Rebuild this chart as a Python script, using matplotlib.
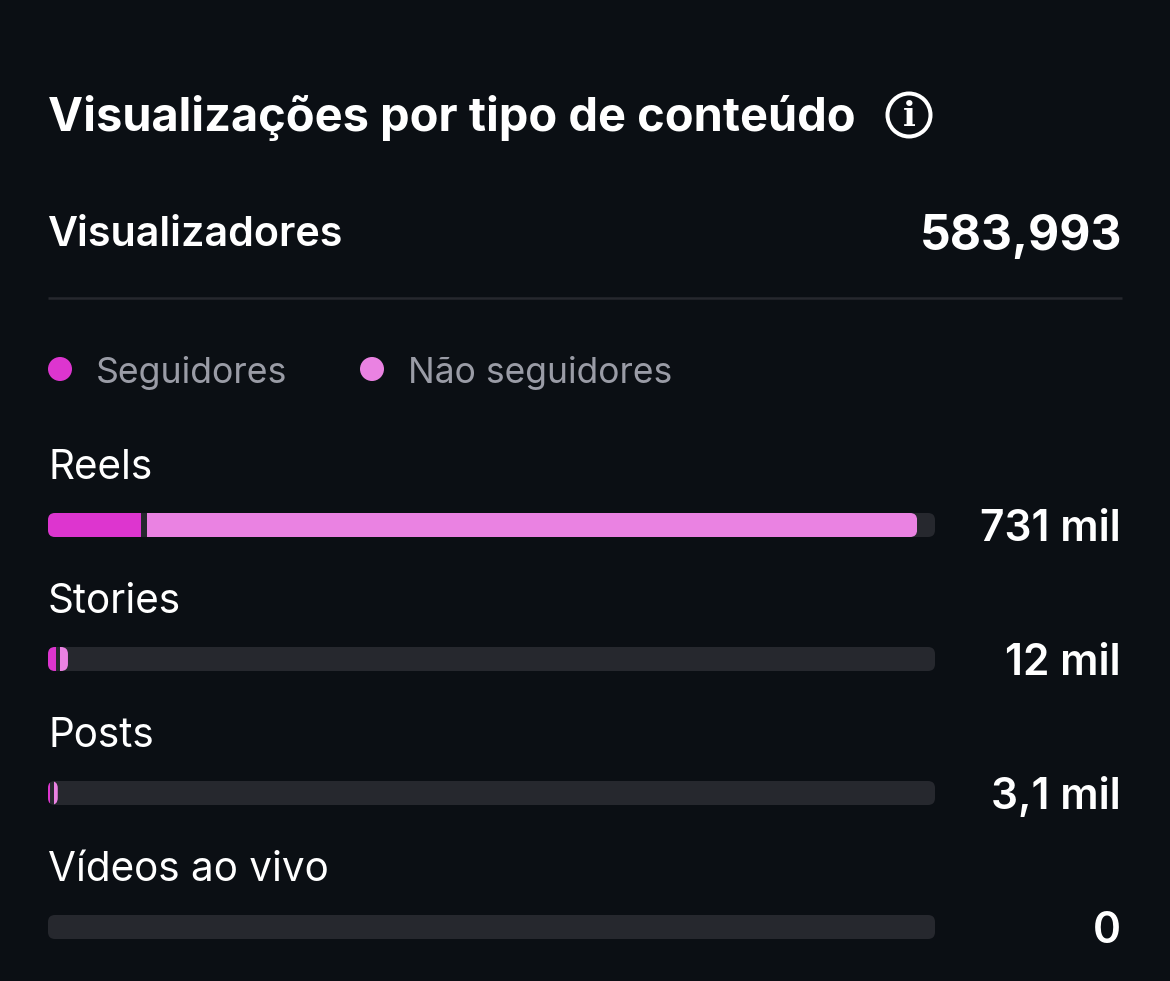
import matplotlib
matplotlib.use("Agg")
import matplotlib.pyplot as plt
from matplotlib.patches import FancyBboxPatch, Circle

W, H = 1170, 981
BG = "#0b0f14"
TRACK = "#26282e"
MAGENTA = "#dd35cf"
PINK = "#ea82e2"
GREY = "#9a9ca6"
WHITE = "#ffffff"

title = "Visualizações por tipo de conteúdo"
total_label = "Visualizadores"
total_value = "583,993"
legend_names = ["Seguidores", "Não seguidores"]

categories = ["Reels", "Stories", "Posts", "Vídeos ao vivo"]
value_labels = ["731 mil", "12 mil", "3,1 mil", "0"]
# segment widths as % of the track
followers = [10.5, 0.9, 0.25, 0]
nonfollowers = [86.8, 0.9, 0.45, 0]
gaps = [0.68, 0.45, 0.4, 0]

plt.rcParams["font.family"] = ["Inter", "DejaVu Sans"]

fig = plt.figure(figsize=(W / 100, H / 100), dpi=100, facecolor=BG)

# overlay in pixel coords for the text and decorations
over = fig.add_axes([0, 0, 1, 1])
over.set_xlim(0, W)
over.set_ylim(H, 0)
over.axis("off")


def px(size):
    return size * 72 / 100


over.text(48, 113, title, color=WHITE, fontsize=px(47), fontweight="bold", va="center_baseline")
over.add_patch(Circle((909, 115), 21.5, fill=False, ec=WHITE, lw=px(4)))
over.text(909, 116, "i", color=WHITE, fontsize=px(34), fontweight="bold", family="DejaVu Serif",
          ha="center", va="center")

over.text(48, 231, total_label, color=WHITE, fontsize=px(41.3), fontweight="semibold", va="center_baseline")
over.text(1122, 232, total_value, color=WHITE, fontsize=px(48), fontweight="bold", ha="right",
          va="center_baseline")
over.plot([48, 1122], [298, 298], color=TRACK, lw=px(2.5), solid_capstyle="butt")

over.add_patch(Circle((60, 369), 12, color=MAGENTA, lw=0))
over.text(96, 370, legend_names[0], color=GREY, fontsize=px(35.7), va="center_baseline")
over.add_patch(Circle((372, 369), 12, color=PINK, lw=0))
over.text(408, 370, legend_names[1], color=GREY, fontsize=px(35.5), va="center_baseline")

row_gap = 134
bar_px = 24
first_center = 525
for i, name in enumerate(categories):
    yc = first_center + i * row_gap
    over.text(48, yc - 61, name, color=WHITE, fontsize=px(40.5), va="center_baseline")
    over.text(1121, yc + 0, value_labels[i], color=WHITE, fontsize=px(42.5), fontweight="semibold", ha="right",
              va="center_baseline")

# bars, x is % of the track and y the row number
top = first_center - bar_px / 2
bottom = first_center + 3 * row_gap + bar_px / 2
ax = fig.add_axes([48 / W, 1 - bottom / H, 887 / W, (bottom - top) / H])
ax.set_xlim(0, 100)
ax.set_ylim(3 + bar_px / 2 / row_gap, -bar_px / 2 / row_gap)
ax.axis("off")
ax.patch.set_alpha(0)

bar_h = bar_px / row_gap
px_x = 887 / 100
aspect = px_x / row_gap
radius = 7 / px_x


def rounded(x, w, y):
    return FancyBboxPatch((x, y - bar_h / 2), w, bar_h, boxstyle=f"round,pad=0,rounding_size={radius}",
                          mutation_aspect=aspect, lw=0, transform=ax.transData)


for i in range(len(categories)):
    track = rounded(0, 100, i)
    track.set_facecolor(TRACK)
    ax.add_patch(track)
    end = followers[i] + gaps[i] + nonfollowers[i]
    if end == 0:
        continue
    clip = rounded(0, end, i)
    b1 = ax.barh(i, followers[i], height=bar_h, color=MAGENTA, lw=0, zorder=3)
    b2 = ax.barh(i, nonfollowers[i], left=followers[i] + gaps[i], height=bar_h, color=PINK, lw=0, zorder=3)
    for b in list(b1) + list(b2):
        b.set_clip_path(clip.get_path(), clip.get_transform())

fig.savefig("out.png", dpi=100, facecolor=BG)
